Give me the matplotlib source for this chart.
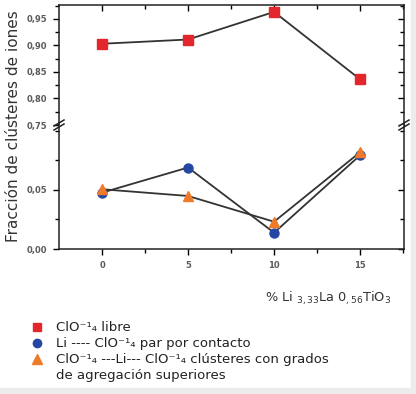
import matplotlib
matplotlib.use("Agg")
import matplotlib.pyplot as plt
from matplotlib.lines import Line2D
from matplotlib.patches import Rectangle

# ---- data ----
x_pct = [0, 5, 10, 15]
libre = [0.903, 0.911, 0.963, 0.836]
par_contacto = [0.0477, 0.069, 0.0138, 0.0794]
clusteres = [0.0506, 0.0449, 0.0231, 0.082]

x_ticks = [0, 5, 10, 15]
x_ticklabels = ["0", "5", "10", "15"]
top_yticks = [0.75, 0.80, 0.85, 0.90, 0.95]
top_yticklabels = ["0,75", "0,80", "0,85", "0,90", "0,95"]
bot_yticks = [0.00, 0.05]
bot_yticklabels = ["0,00", "0,05"]

labels = ["ClO⁻¹₄ libre",
          "Li ---- ClO⁻¹₄ par por contacto",
          "ClO⁻¹₄ ---Li--- ClO⁻¹₄ clústeres con grados",
          "de agregación superiores"]

RED = "#e3262b"
BLUE = "#2447a3"
ORANGE = "#ee7a2a"
LINE = "#333333"
TICKC = "#5a5a5a"

W, H = 416, 394
fig = plt.figure(figsize=(W / 100, H / 100), dpi=100)
fig.patch.set_facecolor("white")

# light grey frame at right / bottom
fig.patches.append(Rectangle((411 / W, 0), 1, 1, transform=fig.transFigure,
                             color="#ececec", zorder=0))
fig.patches.append(Rectangle((0, 0), 1, 6 / H, transform=fig.transFigure,
                             color="#ececec", zorder=0))

left = 59 / W
width = (404 - 59) / W
top_px, brk_px, bot_px = 5, 125, 249
ax_top = fig.add_axes([left, (H - brk_px) / H, width, (brk_px - top_px) / H])
ax_bot = fig.add_axes([left, (H - bot_px) / H, width, (bot_px - brk_px) / H])

xlim = (-2.5, 17.55)
for ax in (ax_top, ax_bot):
    ax.set_xlim(*xlim)
    for s in ax.spines.values():
        s.set_linewidth(1.1)
        s.set_color("#222222")

ax_top.set_ylim(0.75, 0.976)
ax_bot.set_ylim(0.0, 0.105)
ax_top.spines["bottom"].set_visible(False)
ax_bot.spines["top"].set_visible(False)

mk = dict(ms=6.5, lw=1.3, color=LINE, zorder=3)
ax_top.plot(x_pct, libre, marker="s", mfc=RED, mec=RED, **mk)
ax_bot.plot(x_pct, par_contacto, marker="o", mfc=BLUE, mec=BLUE, **mk)
ax_bot.plot(x_pct, clusteres, marker="^", mfc=ORANGE, mec=ORANGE, **mk)

# ticks
for ax in (ax_top, ax_bot):
    ax.set_xticks(x_ticks)
    ax.set_xticklabels(x_ticklabels)
    ax.set_xticks([2.5, 7.5, 12.5, 17.5], minor=True)
ax_top.set_yticks(top_yticks)
ax_top.set_yticklabels(top_yticklabels)
ax_top.set_yticks([0.775, 0.825, 0.875, 0.925, 0.975], minor=True)
ax_bot.set_yticks(bot_yticks)
ax_bot.set_yticklabels(bot_yticklabels)
ax_bot.set_yticks([0.025, 0.075, 0.1], minor=True)

ax_top.tick_params(axis="x", which="both", bottom=False, labelbottom=False,
                   top=True, direction="in", length=4, width=1)
ax_top.tick_params(axis="x", which="minor", length=3)
ax_bot.tick_params(axis="x", which="both", top=False, bottom=True,
                   direction="out", length=4, width=1, labelsize=6,
                   labelcolor=TICKC, pad=5)
ax_bot.tick_params(axis="x", which="minor", length=3)
for ax in (ax_top, ax_bot):
    ax.tick_params(axis="y", which="both", left=True, right=True,
                   direction="out", length=4.3, width=1, labelsize=6,
                   labelcolor=TICKC, pad=4)
    ax.tick_params(axis="y", which="minor", length=3)
    for lab in ax.get_xticklabels() + ax.get_yticklabels():
        lab.set_fontweight("bold")
for ax in (ax_top, ax_bot):
    for t in ax.yaxis.get_ticklines(minor=False)[1::2] + ax.yaxis.get_ticklines(minor=True)[1::2]:
        t.set_marker(0)  # right-side ticks point inward

# break marks
def brk(xpx):
    for dy in (-2.0, 2.0):
        fig.add_artist(Line2D([(xpx - 5) / W, (xpx + 5) / W],
                              [(H - brk_px - dy - 3) / H, (H - brk_px - dy + 3) / H],
                              transform=fig.transFigure, color="#222222", lw=1.1))
brk(59)
brk(404)

# axis labels
fig.text(14 / W, (H - 126) / H, "Fracción de clústeres de iones", rotation=90,
         ha="center", va="center", fontsize=11, color="#333333")
fig.text(391 / W, (H - 298) / H, r"% Li $_{3,33}$La 0$_{,56}$TiO$_3$",
         ha="right", va="center", fontsize=9.3, color="#333333")

# legend (placed manually for tight line spacing)
leg_markers = [("s", RED, 5.5), ("o", BLUE, 6), ("^", ORANGE, 6.5)]
leg_marker_y = [327, 343, 359]
for (m, c, s), ypx in zip(leg_markers, leg_marker_y):
    fig.add_artist(Line2D([37 / W], [(H - ypx) / H], ls="", marker=m, ms=s,
                          mfc=c, mec=c, transform=fig.transFigure))
leg_baselines = [331, 347, 363, 379]
for txt, ypx in zip(labels, leg_baselines):
    fig.text(56 / W, (H - ypx) / H, txt, ha="left", va="baseline",
             fontsize=9.5, color="#222222")

fig.savefig("out.png", dpi=100)
